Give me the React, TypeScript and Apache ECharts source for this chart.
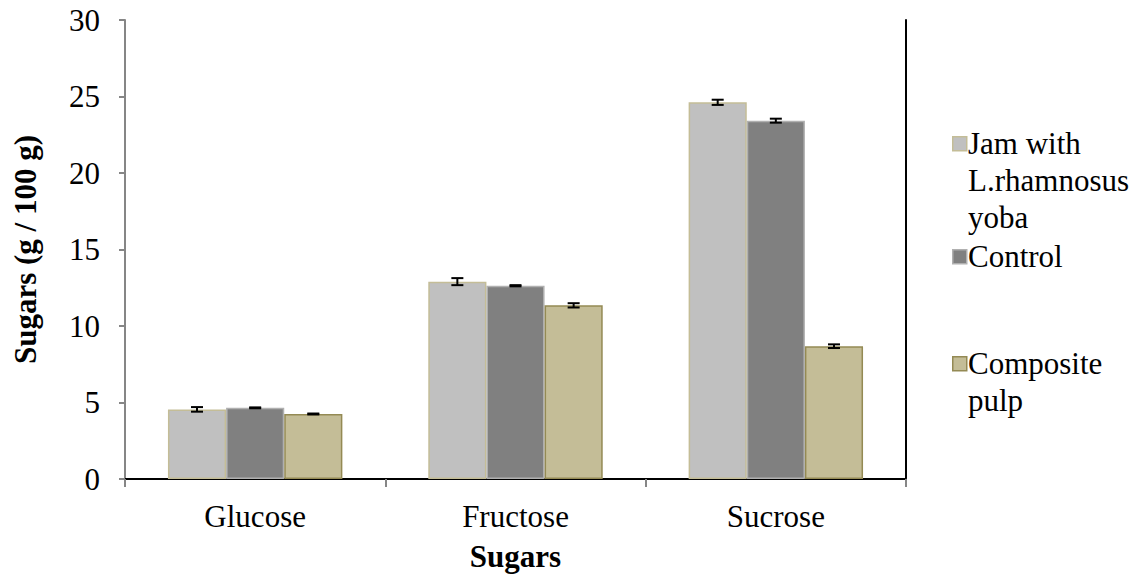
import React, { useEffect, useRef } from "react";
import * as echarts from "echarts";

const categories = ["Glucose", "Fructose", "Sucrose"];
const seriesNames = ["Jam with L.rhamnosus yoba", "Control", "Composite pulp"];
const legendLabels = ["Jam with\nL.rhamnosus\nyoba", "Control", "Composite\npulp"];
const jamValues = [4.55, 12.9, 24.62];
const controlValues = [4.65, 12.63, 23.42];
const compositeValues = [4.25, 11.35, 8.68];
const jamErrors = [0.15, 0.23, 0.17];
const controlErrors = [0.03, 0.04, 0.13];
const compositeErrors = [0.03, 0.14, 0.12];
const yTicks = [0, 5, 10, 15, 20, 25, 30];

const FONT = "Liberation Serif";
const FS = 31;
const fills = ["#C0C0C0", "#808080", "#C4BD97"];
const borders = ["#C4BD97", "#B0B0B0", "#948A54"];
const CATEGORY_GAP = 0.33;

export default function App() {
  const ref = useRef<HTMLDivElement>(null);
  useEffect(() => {
    if (!ref.current) return;
    const chart = echarts.init(ref.current, undefined, { renderer: "svg" });
    const values = [jamValues, controlValues, compositeValues];
    const errors = [jamErrors, controlErrors, compositeErrors];

    const barSeries = values.map((vals, i) => ({
      type: "bar",
      name: seriesNames[i],
      data: vals,
      barGap: "0%",
      barCategoryGap: "33%",
      itemStyle: { color: fills[i], borderColor: borders[i], borderWidth: 1.5 },
      z: 2,
    }));

    const errorSeries = values.map((vals, i) => ({
      type: "custom",
      name: seriesNames[i] + " error",
      data: vals.map((v, j) => [j, v - errors[i][j], v + errors[i][j]]),
      z: 5,
      renderItem: (params: any, api: any) => {
        const cat = api.value(0);
        const lo = api.coord([cat, api.value(1)]);
        const hi = api.coord([cat, api.value(2)]);
        const catWidth = api.size([1, 0])[0];
        const barW = (catWidth * (1 - CATEGORY_GAP)) / 3;
        const x = lo[0] + (i - 1) * barW;
        const cap = 6;
        const style = { stroke: "#000", lineWidth: 2 };
        return {
          type: "group",
          children: [
            { type: "line", shape: { x1: x, y1: lo[1], x2: x, y2: hi[1] }, style },
            { type: "line", shape: { x1: x - cap, y1: lo[1], x2: x + cap, y2: lo[1] }, style },
            { type: "line", shape: { x1: x - cap, y1: hi[1], x2: x + cap, y2: hi[1] }, style },
          ],
        };
      },
      encode: { x: 0, y: [1, 2] },
      tooltip: { show: false },
    }));

    const legendTops = [143, 256, 363];
    const LH = 37;
    const legendGraphics: any[] = [];
    legendLabels.forEach((label, i) => {
      legendGraphics.push({
        type: "rect",
        left: 952,
        top: legendTops[i] - 7,
        shape: { width: 14, height: 14 },
        style: { fill: fills[i], stroke: borders[i], lineWidth: 1.5 },
      });
      legendGraphics.push({
        type: "text",
        left: 968,
        top: legendTops[i] - LH / 2,
        style: {
          text: label,
          fontFamily: FONT,
          fontSize: FS,
          fill: "#000",
          lineHeight: LH,
        },
      });
    });

    chart.setOption({
      animation: false,
      textStyle: { fontFamily: FONT },
      grid: { left: 125, top: 20, right: 229, bottom: 101, containLabel: false },
      xAxis: [
        {
          type: "category",
          data: categories,
          name: "Sugars",
          nameLocation: "middle",
          nameGap: 62,
          nameTextStyle: { fontFamily: FONT, fontSize: FS, fontWeight: "bold", color: "#000" },
          axisLine: { lineStyle: { color: "#868686", width: 2 } },
          axisTick: { show: true, inside: false, length: 8, alignWithLabel: false, lineStyle: { color: "#868686", width: 2 } },
          axisLabel: { fontFamily: FONT, fontSize: FS, color: "#000", margin: 22 },
          splitLine: { show: false },
        },
        {
          type: "category",
          data: categories,
          position: "top",
          axisLine: { lineStyle: { color: "#000", width: 2 } },
          axisTick: { show: false },
          axisLabel: { show: false },
        },
      ],
      yAxis: [
        {
          type: "value",
          min: 0,
          max: 30,
          interval: 5,
          name: "Sugars (g / 100 g)",
          nameLocation: "middle",
          nameGap: 84,
          nameTextStyle: { fontFamily: FONT, fontSize: FS, fontWeight: "bold", color: "#000" },
          axisLine: { show: true, lineStyle: { color: "#868686", width: 2 } },
          axisTick: { show: true, inside: false, length: 6, lineStyle: { color: "#868686", width: 2 } },
          axisLabel: {
            fontFamily: FONT,
            fontSize: FS,
            color: "#000",
            margin: 25,
            formatter: (v: number) => (yTicks.includes(v) ? String(v) : ""),
          },
          splitLine: { show: false },
        },
        {
          type: "value",
          min: 0,
          max: 30,
          interval: 5,
          position: "right",
          axisLine: { show: true, lineStyle: { color: "#000", width: 2 } },
          axisTick: { show: false },
          axisLabel: { show: false },
          splitLine: { show: false },
        },
      ],
      series: [...barSeries, ...errorSeries],
      graphic: legendGraphics,
    });
    return () => chart.dispose();
  }, []);
  return (
    <div
      ref={ref}
      style={{ position: "fixed", left: 0, top: 0, width: 1135, height: 580, background: "#fff" }}
    />
  );
}
